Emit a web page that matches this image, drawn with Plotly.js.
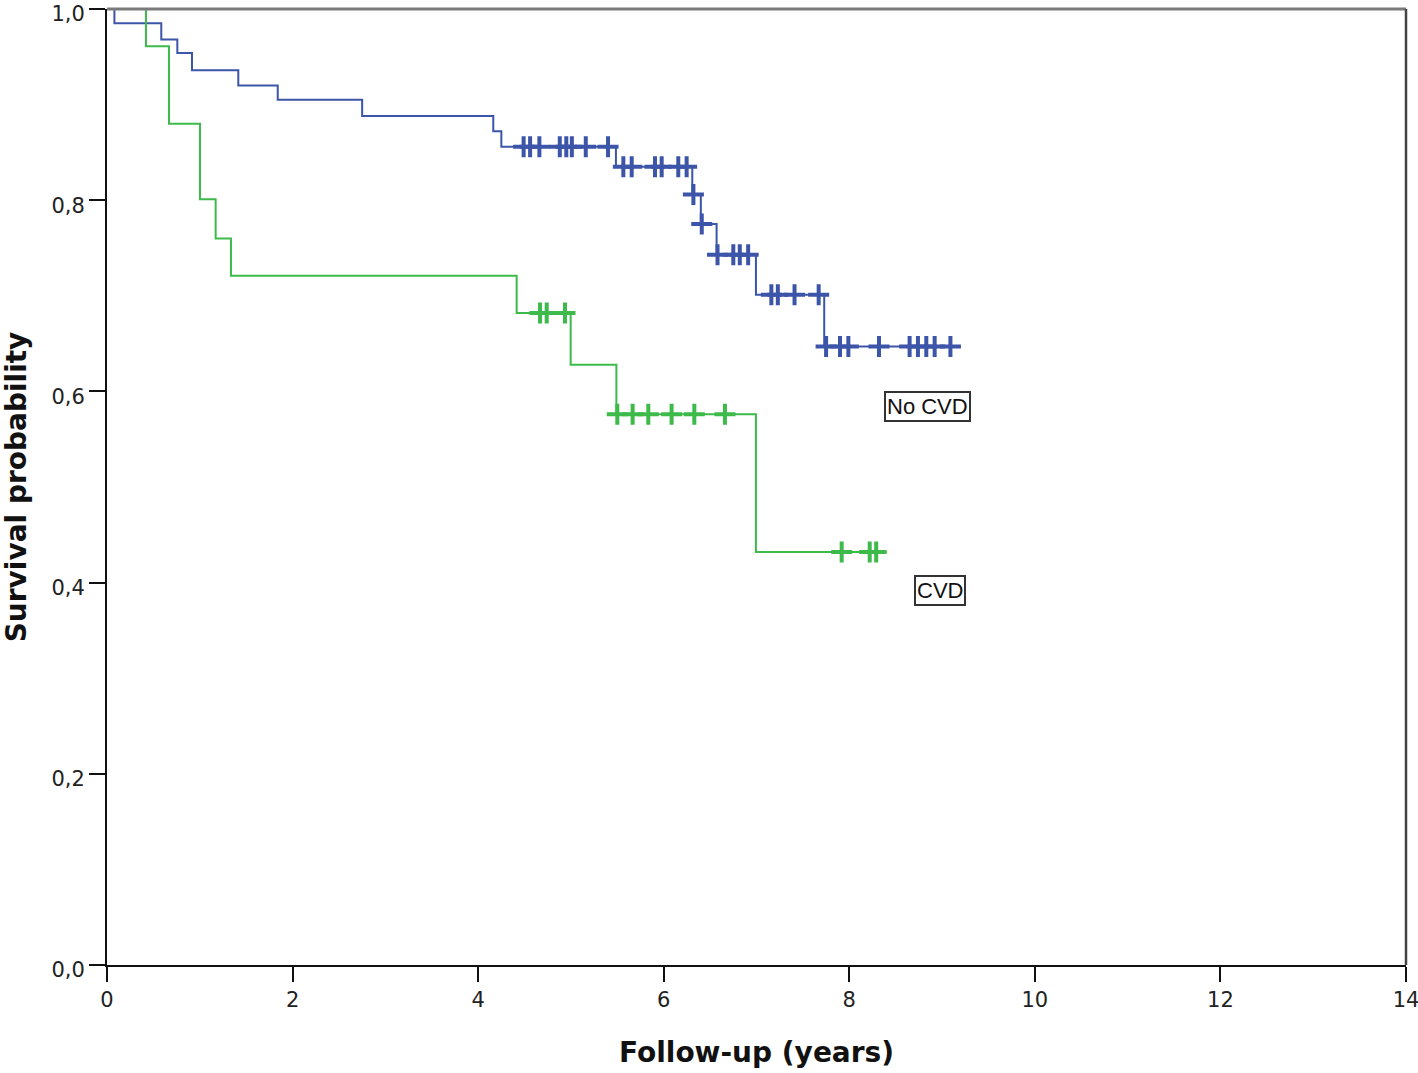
<!DOCTYPE html>
<html>
<head>
<meta charset="utf-8">
<script src="https://cdn.plot.ly/plotly-3.0.1.min.js"></script>
<style>html,body{margin:0;padding:0;background:#fff;}#chart{width:1418px;height:1073px;}</style>
</head>
<body>
<div id="chart"></div>
<script>
// No CVD group: event times (years) and survival after each event
const noCvdEventTimes = [0.08, 0.585, 0.758, 0.916, 1.415, 1.84, 2.75, 4.163, 4.25, 5.485, 6.308, 6.40, 6.57, 6.994, 7.73];
const noCvdSurvival   = [0.985, 0.968, 0.954, 0.936, 0.920, 0.905, 0.888, 0.872, 0.856, 0.835, 0.806, 0.775, 0.743, 0.701, 0.647];
const noCvdCensored   = [4.49, 4.56, 4.66, 4.88, 4.95, 5.01, 5.16, 5.40, 5.565, 5.655, 5.906, 5.978, 6.157, 6.247, 6.32, 6.41, 6.58, 6.75, 6.82, 6.91, 7.16, 7.23, 7.41, 7.67, 7.75, 7.90, 7.99, 8.32, 8.65, 8.74, 8.83, 8.92, 9.09];

// CVD group
const cvdEventTimes = [0.42, 0.668, 1.002, 1.171, 1.336, 4.415, 4.997, 5.49, 6.994];
const cvdSurvival   = [0.961, 0.880, 0.801, 0.760, 0.721, 0.682, 0.628, 0.576, 0.432];
const cvdCensored   = [4.667, 4.739, 4.936, 5.50, 5.665, 5.834, 6.085, 6.33, 6.66, 7.918, 8.22, 8.29];

const groupLabels = ["No CVD", "CVD"];
const xTicks = [0, 2, 4, 6, 8, 10, 12, 14];
const yTicks = [0, 0.2, 0.4, 0.6, 0.8, 1.0];

const blue = "#3c55a8";
const green = "#3dba4a";

function stepCurve(times, surv, censored) {
  const endT = Math.max(times[times.length - 1], censored[censored.length - 1]);
  const x = [0].concat(times, [endT]);
  const y = [1].concat(surv, [surv[surv.length - 1]]);
  return {x, y};
}
function survAt(times, surv, t) {
  let s = 1;
  for (let i = 0; i < times.length; i++) { if (times[i] <= t) s = surv[i]; }
  return s;
}

const nc = stepCurve(noCvdEventTimes, noCvdSurvival, noCvdCensored);
const cv = stepCurve(cvdEventTimes, cvdSurvival, cvdCensored);

const traces = [
  {x: nc.x, y: nc.y, mode: "lines", line: {shape: "hv", color: blue, width: 2}, name: groupLabels[0], hoverinfo: "skip"},
  {x: noCvdCensored, y: noCvdCensored.map(t => survAt(noCvdEventTimes, noCvdSurvival, t)), mode: "markers",
   marker: {symbol: "cross-thin", size: 15, line: {color: blue, width: 4}}, name: groupLabels[0] + " censored"},
  {x: cv.x, y: cv.y, mode: "lines", line: {shape: "hv", color: green, width: 2}, name: groupLabels[1], hoverinfo: "skip"},
  {x: cvdCensored, y: cvdCensored.map(t => survAt(cvdEventTimes, cvdSurvival, t)), mode: "markers",
   marker: {symbol: "cross-thin", size: 15, line: {color: green, width: 4}}, name: groupLabels[1] + " censored"}
];

const tickFont = {family: "DejaVu Sans, sans-serif", size: 21, color: "#222"};
const titleFont = {family: "DejaVu Sans, sans-serif", size: 28, color: "#111", weight: "bold"};

const layout = {
  width: 1418, height: 1073,
  margin: {l: 107, r: 12, t: 9, b: 108},
  paper_bgcolor: "#fff", plot_bgcolor: "#fff",
  showlegend: false,
  separators: ",.",
  xaxis: {
    range: [0, 14], tickvals: xTicks, ticktext: xTicks.map(String),
    ticks: "outside", ticklen: 15, tickwidth: 2, tickcolor: "#111",
    showline: true, linecolor: "#111", linewidth: 2, showgrid: false, zeroline: false,
    tickfont: tickFont, ticklabeloverflow: "allow",
    title: {text: "<b>Follow-up (years)</b>", font: titleFont, standoff: 31}
  },
  yaxis: {
    range: [0, 1], tickvals: yTicks, tickformat: ".1f",
    ticks: "outside", ticklen: 16, tickwidth: 2, tickcolor: "#111",
    showline: true, linecolor: "#111", linewidth: 2, showgrid: false, zeroline: false,
    tickfont: tickFont, ticklabeloverflow: "allow", ticklabelshift: 5,
    title: {text: "<b>Survival probability</b>", font: titleFont, standoff: 22}
  },
  shapes: [
    {type: "line", xref: "paper", yref: "paper", x0: 0, x1: 1, y0: 1, y1: 1, line: {color: "#7a7a7a", width: 3}},
    {type: "line", xref: "paper", yref: "paper", x0: 1, x1: 1, y0: 0, y1: 1, line: {color: "#444", width: 2.5}}
  ],
  annotations: [
    {x: 8.84, y: 0.584, xref: "x", yref: "y", text: groupLabels[0], showarrow: false,
     font: {family: "Liberation Sans, Arial, sans-serif", size: 22, color: "#111"},
     bordercolor: "#333", borderwidth: 2, borderpad: 1, bgcolor: "#fff"},
    {x: 8.98, y: 0.392, xref: "x", yref: "y", text: groupLabels[1], showarrow: false,
     font: {family: "Liberation Sans, Arial, sans-serif", size: 22, color: "#111"},
     bordercolor: "#333", borderwidth: 2, borderpad: 1, bgcolor: "#fff"}
  ]
};

Plotly.newPlot("chart", traces, layout, {displayModeBar: false, staticPlot: true});
</script>
</body>
</html>
